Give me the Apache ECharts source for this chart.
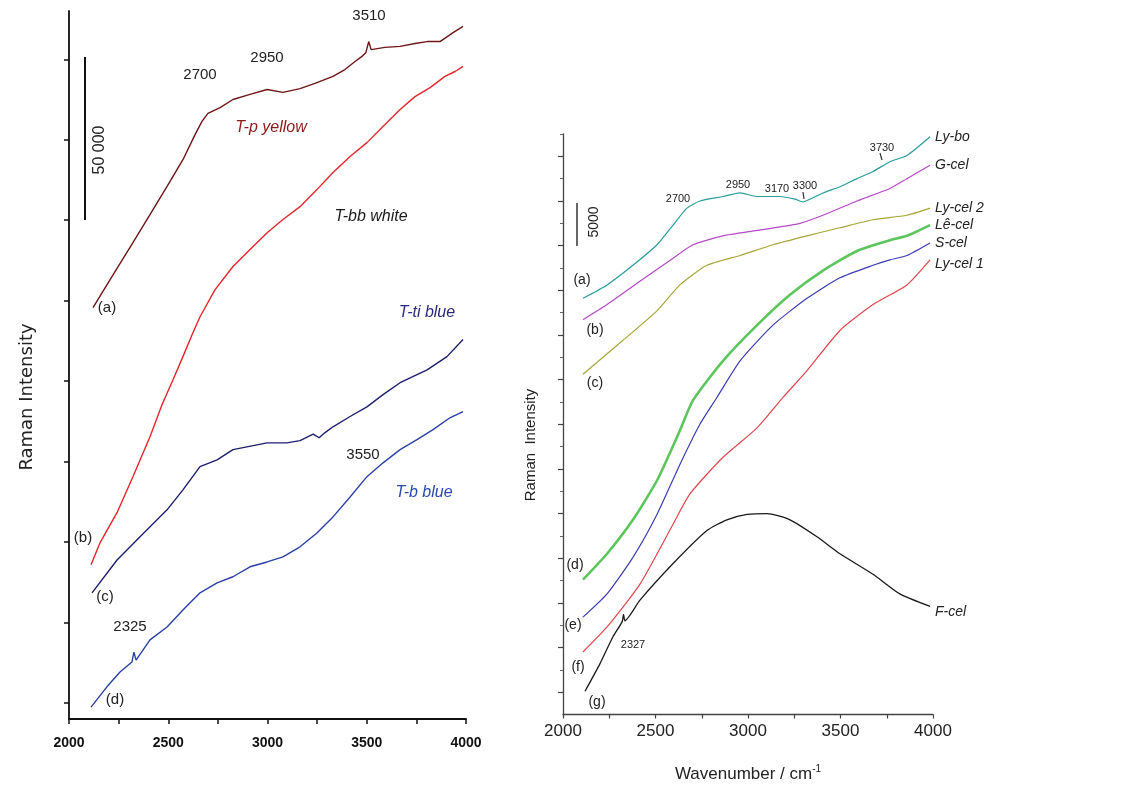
<!DOCTYPE html>
<html>
<head>
<meta charset="utf-8">
<script src="https://cdn.jsdelivr.net/npm/echarts@6/dist/echarts.min.js"></script>
<style>
  html, body { margin: 0; padding: 0; background: #fff; }
  #main { width: 1122px; height: 788px; }
</style>
</head>
<body>
<div id="main"></div>
<script>
// left panel: T-p yellow / T-bb white / T-ti blue / T-b blue
var tpYellowX = [2121,2207,2322,2408,2494,2574,2635,2670,2700,2761,2826,2912,2998,3078,3164,3239,3330,3390,3441,3476,3495,3510,3522,3592,3668,3743,3804,3869,3935,3985];
var tpYellowY = [127800,136500,148000,156700,165500,173800,181600,185700,188200,190000,192500,194100,195600,194700,195900,197500,199700,201800,204300,205900,207000,210500,208000,208700,209000,209900,210500,210500,213300,215200];

var tbbWhiteX = [2111,2156,2242,2322,2408,2469,2524,2574,2620,2660,2736,2826,2912,2998,3078,3164,3249,3330,3416,3501,3582,3668,3743,3819,3894,3945,3985];
var tbbWhiteY = [47900,54700,64100,75300,87700,97700,105400,112600,119400,125000,133400,140600,145900,151100,155200,159200,164500,169800,174800,179100,184100,189400,193400,196200,199700,201200,202800];

var ttiBlueX = [2116,2242,2358,2494,2574,2660,2746,2826,2998,3098,3164,3230,3260,3290,3330,3416,3501,3582,3668,3804,3904,3985];
var ttiBlueY = [39200,49400,56600,65000,71200,78400,80500,83700,85800,85800,86500,88500,87400,89000,90800,94000,97000,100800,104500,108500,112600,117900];

var tbBlueX = [2111,2191,2257,2317,2327,2338,2408,2494,2574,2660,2746,2826,2912,2998,3078,3164,3249,3330,3416,3501,3582,3668,3753,3834,3919,3985];
var tbBlueY = [3700,10000,14600,17700,20800,18300,24600,28600,33900,39200,42300,44200,47300,48800,50400,53500,57800,62800,69000,75300,79600,83700,86800,89900,93600,95500];

// right panel
var lyBoX = [2108,2238,2378,2508,2595,2670,2740,2865,2957,3049,3173,3254,3297,3335,3405,3497,3589,3676,3767,3859,3984];
var lyBoY = [46600,48100,50300,52600,54800,56700,57500,58000,58400,58000,58000,57700,57400,57700,58400,59100,60000,60800,61900,62600,64700];

var gCelX = [2108,2238,2416,2595,2703,2865,3049,3281,3405,3589,3767,3859,3984];
var gCelY = [44200,45900,48500,51100,52600,53600,54200,55000,55900,57500,58900,60000,61500];

var lyCel2X = [2108,2324,2508,2632,2778,2957,3135,3319,3497,3676,3859,3984];
var lyCel2Y = [38100,41900,45200,48100,50300,51400,52600,53600,54500,55400,55900,56700];

var leCelX = [2108,2238,2378,2508,2632,2703,2865,3049,3227,3405,3589,3767,3859,3984];
var leCelY = [15100,18000,21800,26200,31800,35200,39600,43600,47000,49700,51900,53100,53600,54800];

var sCelX = [2108,2238,2378,2508,2632,2740,2832,2957,3135,3319,3497,3676,3767,3859,3984];
var sCelY = [10900,13500,17600,22400,28000,32500,35500,39600,43600,46600,48900,50300,50900,51400,52800];

var lyCel1X = [2108,2238,2416,2595,2686,2865,3049,3189,3319,3497,3676,3859,3984];
var lyCel1Y = [7000,9800,14600,21300,24700,28800,32100,35500,38500,43000,45900,48100,50900];

var fCelX = [2119,2200,2270,2320,2327,2335,2416,2595,2778,2886,2995,3103,3227,3373,3497,3676,3821,3984];
var fCelY = [2600,5700,8700,10400,11200,10500,12800,16900,20600,21800,22400,22500,21800,19900,18000,15700,13500,12100];

// tick positions (no labels on intensity axes)
var leftTicks = [5000,30000,55000,80000,105000,130000,155000,180000,205000];
var rightMajor = [2500,7500,12500,17500,22500,27500,32500,37500,42500,47500,52500,57500,62500];
var rightMinor = [5000,10000,15000,20000,25000,30000,35000,40000,45000,50000,55000,60000,65000];

var FONT = 'Liberation Sans, Arial, sans-serif';

function zip(xs, ys) {
  return xs.map(function (x, i) { return [x, ys[i]]; });
}

function leftLine(name, xs, ys, color) {
  return {
    name: name, type: 'line', xAxisIndex: 0, yAxisIndex: 0,
    data: zip(xs, ys), showSymbol: false, smooth: false,
    lineStyle: { color: color, width: 1.4 }
  };
}

function rightLine(name, xs, ys, color, width, off) {
  return {
    name: name, type: 'line', xAxisIndex: 1, yAxisIndex: 1,
    data: zip(xs, ys), showSymbol: false, smooth: 0.2,
    lineStyle: { color: color, width: width || 1.2 },
    endLabel: {
      show: true, formatter: '{a}', distance: 5, offset: off || [0, 0],
      fontFamily: FONT, fontStyle: 'italic', fontSize: 14, color: '#222'
    }
  };
}

function txt(s, x, y, size, opt) {
  opt = opt || {};
  return {
    type: 'text', x: x, y: y, rotation: opt.rot || 0,
    style: {
      text: s, fill: opt.color || '#222',
      font: (opt.italic ? 'italic ' : '') + (opt.bold ? 'bold ' : '') + size + 'px ' + (opt.family || FONT),
      align: 'center', verticalAlign: 'middle'
    }
  };
}

var chart = echarts.init(document.getElementById('main'));

var xAxisBase = {
  type: 'value', min: 2000, max: 4000, interval: 250,
  splitLine: { show: false }
};

var option = {
  backgroundColor: '#fff',
  animation: false,
  grid: [
    { left: 69, top: 11, width: 397, height: 708 },
    { left: 563, top: 134, width: 370, height: 584 }
  ],
  xAxis: [
    Object.assign({}, xAxisBase, {
      gridIndex: 0,
      axisLine: { lineStyle: { color: '#111', width: 1.8 } },
      axisTick: { length: 5, lineStyle: { color: '#111', width: 1.5 } },
      axisLabel: {
        margin: 17, fontFamily: FONT, fontSize: 14, fontWeight: 'bold', color: '#111',
        formatter: function (v) { return v % 500 === 0 ? v : ''; }
      }
    }),
    Object.assign({}, xAxisBase, {
      gridIndex: 1,
      name: 'Wavenumber / cm{s|-1}', nameLocation: 'middle', nameGap: 50,
      nameTextStyle: {
        fontFamily: FONT, fontSize: 17, color: '#222',
        rich: { s: { fontFamily: FONT, fontSize: 10, color: '#222', verticalAlign: 'top', padding: [0, 0, 10, 0] } }
      },
      axisLine: { lineStyle: { color: '#444', width: 1.3 } },
      axisTick: { length: 4, lineStyle: { color: '#444', width: 1.2 } },
      axisLabel: {
        margin: 8, fontFamily: FONT, fontSize: 17, color: '#222',
        formatter: function (v) { return v % 500 === 0 ? v : ''; }
      }
    })
  ],
  yAxis: [
    {
      type: 'value', gridIndex: 0, min: 0, max: 220000, position: 'left',
      splitLine: { show: false },
      axisLine: { show: true, lineStyle: { color: '#111', width: 1.8 } },
      axisTick: { show: true, length: 5, customValues: leftTicks, lineStyle: { color: '#111', width: 1.5 } },
      axisLabel: { show: false }
    },
    {
      type: 'value', gridIndex: 1, min: 0, max: 65000, position: 'left',
      splitLine: { show: false },
      axisLine: { show: true, lineStyle: { color: '#444', width: 1.3 } },
      axisTick: { show: true, length: 5, customValues: rightMajor, lineStyle: { color: '#444', width: 1.2 } },
      axisLabel: { show: false }
    },
    {
      type: 'value', gridIndex: 1, min: 0, max: 65000, position: 'left', offset: 0,
      splitLine: { show: false },
      axisLine: { show: false },
      axisTick: { show: true, length: 3, customValues: rightMinor, lineStyle: { color: '#666', width: 1 } },
      axisLabel: { show: false }
    }
  ],
  series: [
    leftLine('T-p yellow', tpYellowX, tpYellowY, '#6e1616'),
    leftLine('T-bb white', tbbWhiteX, tbbWhiteY, '#e3262b'),
    leftLine('T-ti blue', ttiBlueX, ttiBlueY, '#1e1e6e'),
    leftLine('T-b blue', tbBlueX, tbBlueY, '#2a40a6'),
    rightLine('Ly-bo', lyBoX, lyBoY, '#2a9c9e'),
    rightLine('G-cel', gCelX, gCelY, '#b649c6'),
    rightLine('Ly-cel 2', lyCel2X, lyCel2Y, '#a6a63a'),
    rightLine('Lê-cel', leCelX, leCelY, '#5cc65c', 2.6),
    rightLine('S-cel', sCelX, sCelY, '#3a3db0'),
    rightLine('Ly-cel 1', lyCel1X, lyCel1Y, '#e0474c', 1.2, [0, 4]),
    rightLine('F-cel', fCelX, fCelY, '#1a1a1a', 1.3, [0, 6])
  ],
  graphic: [
    // left panel annotations
    txt('Raman Intensity', 27, 397, 18, { rot: Math.PI / 2, family: 'DejaVu Sans, sans-serif' }),
    { type: 'line', shape: { x1: 85, y1: 57, x2: 85, y2: 220 }, style: { stroke: '#111', lineWidth: 2 } },
    txt('50 000', 100, 150, 16, { rot: Math.PI / 2 }),
    txt('3510', 369, 16, 15),
    txt('2700', 200, 75, 15),
    txt('2950', 267, 58, 15),
    txt('T-p yellow', 271, 128, 16, { italic: true, color: '#8b1a1a' }),
    txt('T-bb white', 371, 217, 16, { italic: true, color: '#1a1a1a' }),
    txt('T-ti blue', 427, 313, 16, { italic: true, color: '#2a2a80' }),
    txt('3550', 363, 455, 15),
    txt('T-b blue', 424, 493, 16, { italic: true, color: '#2a4ab0' }),
    txt('2325', 130, 627, 15),
    txt('(a)', 107, 308, 15),
    txt('(b)', 83, 538, 15),
    txt('(c)', 105, 597, 15),
    txt('(d)', 115, 700, 15),
    // right panel annotations
    txt('Raman  Intensity', 531, 445, 15, { rot: Math.PI / 2 }),
    { type: 'line', shape: { x1: 577, y1: 203, x2: 577, y2: 246 }, style: { stroke: '#333', lineWidth: 1.5 } },
    txt('5000', 594, 222, 14, { rot: Math.PI / 2 }),
    txt('2700', 678, 199, 11),
    txt('2950', 738, 185, 11),
    txt('3170', 777, 189, 11),
    txt('3300', 805, 186, 11),
    txt('3730', 882, 148, 11),
    { type: 'line', shape: { x1: 803, y1: 192, x2: 804, y2: 199 }, style: { stroke: '#333', lineWidth: 1.2 } },
    { type: 'line', shape: { x1: 880, y1: 153, x2: 882, y2: 160 }, style: { stroke: '#333', lineWidth: 1.2 } },
    txt('2327', 633, 645, 11),
    txt('(a)', 582, 280, 14),
    txt('(b)', 595, 330, 14),
    txt('(c)', 595, 383, 14),
    txt('(d)', 575, 565, 14),
    txt('(e)', 573, 625, 14),
    txt('(f)', 578, 667, 14),
    txt('(g)', 597, 702, 14)
  ]
};

chart.setOption(option);
</script>
</body>
</html>
